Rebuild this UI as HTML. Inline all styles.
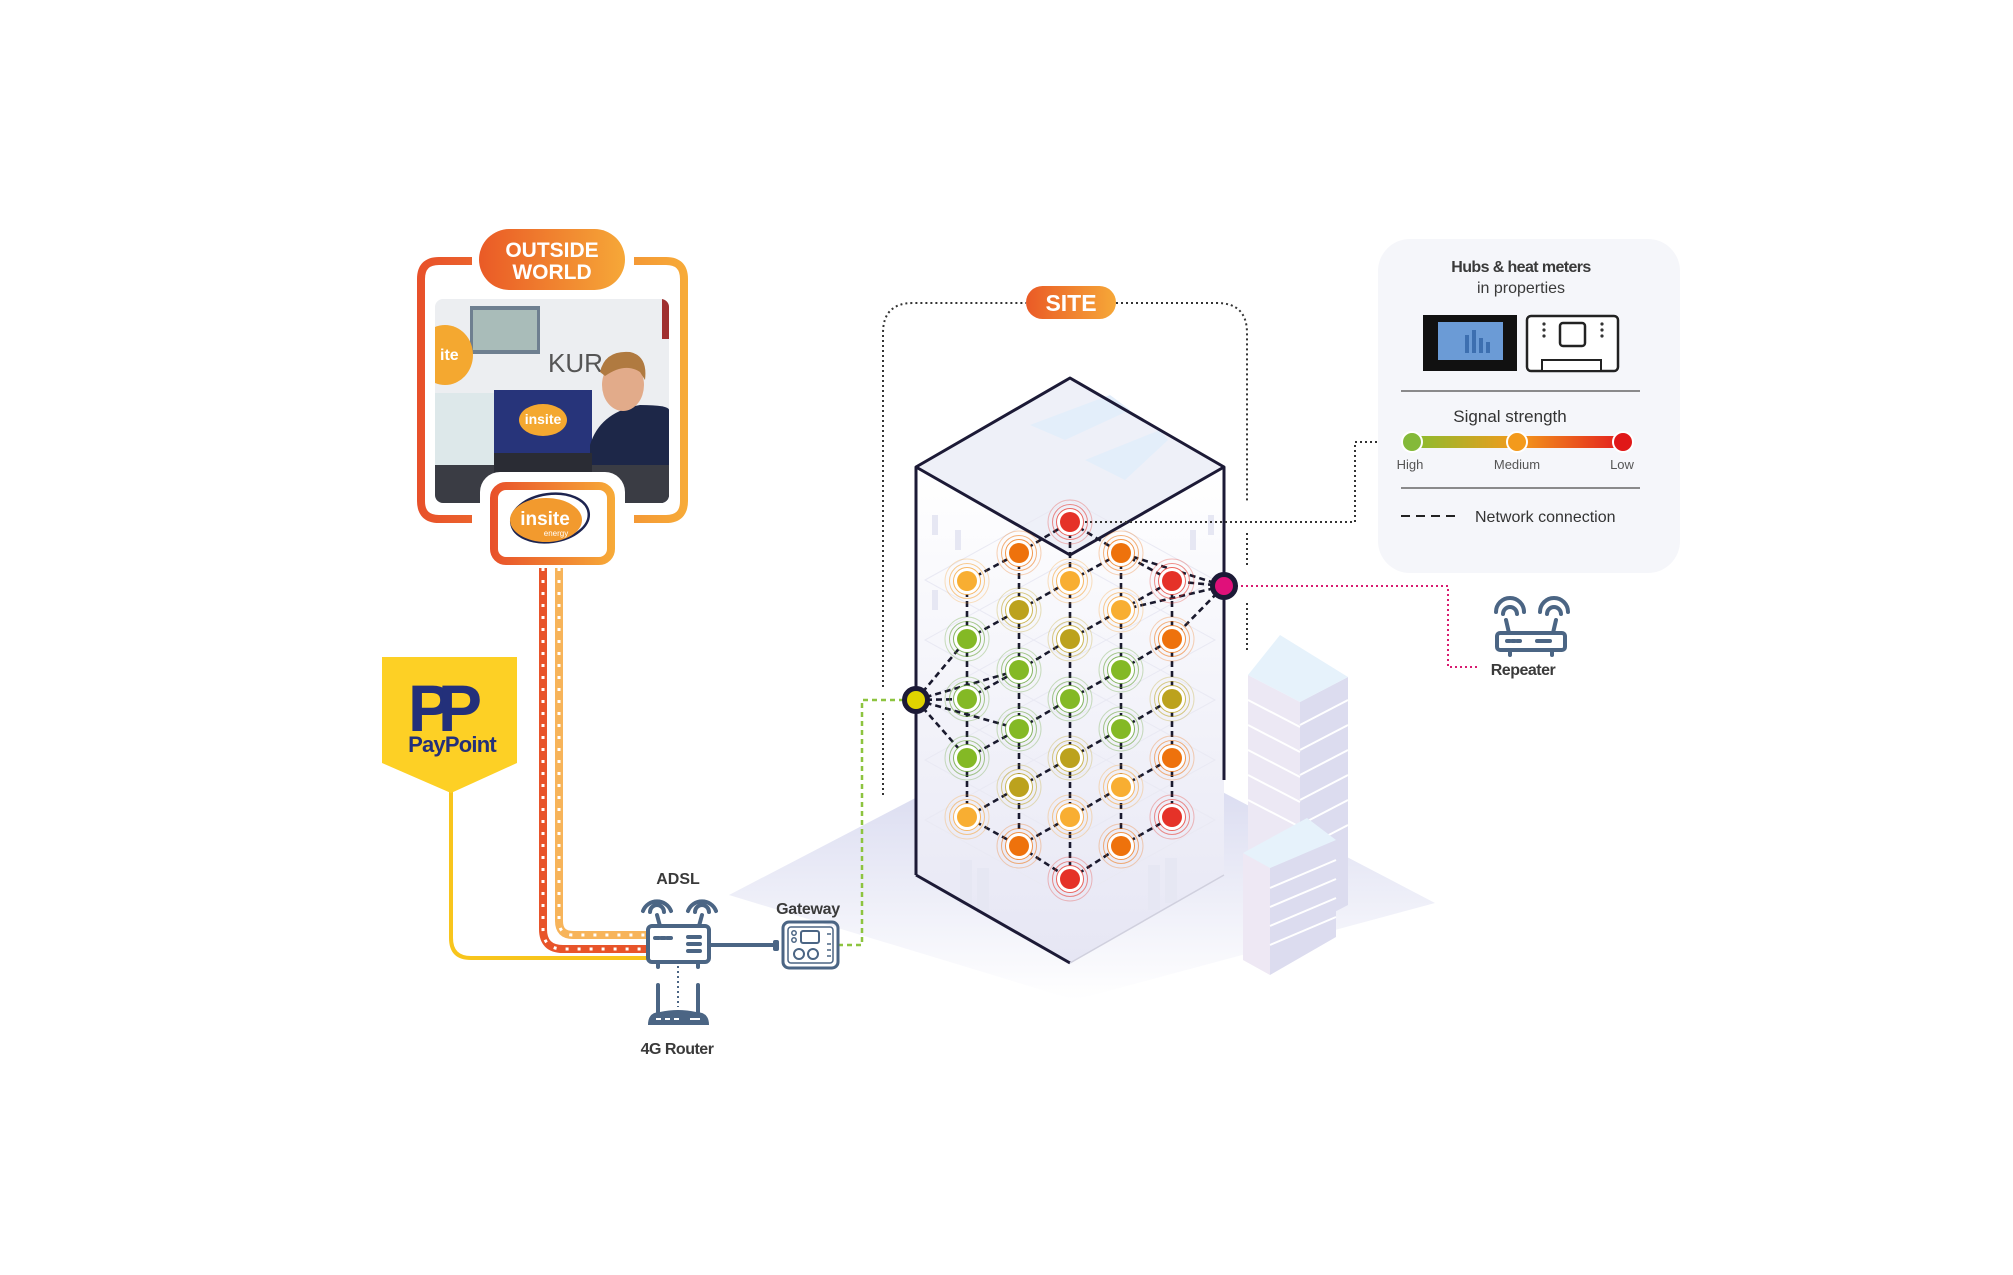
<!DOCTYPE html>
<html><head><meta charset="utf-8"><style>
html,body{margin:0;padding:0;background:#fff}
svg{display:block}
text{font-family:"Liberation Sans",sans-serif}
</style></head><body>
<svg width="2013" height="1275" viewBox="0 0 2013 1275" xmlns="http://www.w3.org/2000/svg">
<defs>
<linearGradient id="og" x1="417" y1="0" x2="688" y2="0" gradientUnits="userSpaceOnUse"><stop offset="0" stop-color="#e8502a"/><stop offset="1" stop-color="#f7ab38"/></linearGradient>
<linearGradient id="pg" x1="0" y1="0" x2="1" y2="0"><stop offset="0" stop-color="#ea5a26"/><stop offset="1" stop-color="#f6a838"/></linearGradient>
<linearGradient id="lg" x1="490" y1="0" x2="615" y2="0" gradientUnits="userSpaceOnUse"><stop offset="0" stop-color="#e8502a"/><stop offset="1" stop-color="#f7ab38"/></linearGradient>
<linearGradient id="sg" x1="1412" y1="0" x2="1623" y2="0" gradientUnits="userSpaceOnUse"><stop offset="0" stop-color="#88bd2f"/><stop offset=".5" stop-color="#f39a1c"/><stop offset="1" stop-color="#e31e1e"/></linearGradient>
<linearGradient id="gr" x1="0" y1="0" x2="0" y2="1"><stop offset="0" stop-color="#cfd1ec"/><stop offset="1" stop-color="#ffffff"/></linearGradient>
<linearGradient id="bl" x1="0" y1="0" x2="0" y2="1"><stop offset="0" stop-color="#ffffff"/><stop offset="1" stop-color="#e6e6f4"/></linearGradient>
<g id="dR"><circle r="22" fill="none" stroke="#e53228" stroke-opacity=".3"/><circle r="17.5" fill="none" stroke="#e53228" stroke-opacity=".55"/><circle r="13.5" fill="#fff" stroke="#e53228" stroke-opacity=".75"/><circle r="10" fill="#e53228"/></g>
<g id="dO"><circle r="22" fill="none" stroke="#ee720c" stroke-opacity=".3"/><circle r="17.5" fill="none" stroke="#ee720c" stroke-opacity=".55"/><circle r="13.5" fill="#fff" stroke="#ee720c" stroke-opacity=".75"/><circle r="10" fill="#ee720c"/></g>
<g id="dY"><circle r="22" fill="none" stroke="#f5a030" stroke-opacity=".3"/><circle r="17.5" fill="none" stroke="#f5a030" stroke-opacity=".55"/><circle r="13.5" fill="#fff" stroke="#f5a030" stroke-opacity=".75"/><circle r="10" fill="#f8ae32"/></g>
<g id="dL"><circle r="22" fill="none" stroke="#bca21d" stroke-opacity=".3"/><circle r="17.5" fill="none" stroke="#bca21d" stroke-opacity=".55"/><circle r="13.5" fill="#fff" stroke="#bca21d" stroke-opacity=".75"/><circle r="10" fill="#bca21d"/></g>
<g id="dG"><circle r="22" fill="none" stroke="#5e9e2a" stroke-opacity=".3"/><circle r="17.5" fill="none" stroke="#5e9e2a" stroke-opacity=".55"/><circle r="13.5" fill="#fff" stroke="#5e9e2a" stroke-opacity=".75"/><circle r="10" fill="#84b925"/></g>
</defs>

<polygon points="729,895 1075,715 1435,903 1075,1000" fill="url(#gr)"/>

<polygon points="1248,675 1300,702 1300,930 1248,905" fill="#ece8f4"/>
<polygon points="1300,702 1348,677 1348,905 1300,930" fill="#dcdcef"/>
<polygon points="1248,675 1280,635 1348,677 1300,702" fill="#e6f2fb"/>
<g stroke="#fff" stroke-width="2">
<line x1="1300" y1="725" x2="1348" y2="700"/><line x1="1300" y1="750" x2="1348" y2="725"/><line x1="1300" y1="775" x2="1348" y2="750"/><line x1="1300" y1="800" x2="1348" y2="775"/><line x1="1300" y1="825" x2="1348" y2="800"/><line x1="1300" y1="850" x2="1348" y2="825"/>
<line x1="1248" y1="700" x2="1300" y2="727"/><line x1="1248" y1="725" x2="1300" y2="752"/><line x1="1248" y1="750" x2="1300" y2="777"/><line x1="1248" y1="775" x2="1300" y2="802"/><line x1="1248" y1="800" x2="1300" y2="827"/>
</g>
<polygon points="1243,853 1270,868 1270,975 1243,960" fill="#eee8f4"/>
<polygon points="1270,868 1336,840 1336,937 1270,975" fill="#dcdcef"/>
<polygon points="1243,853 1307,818 1336,840 1270,868" fill="#e6f2fb"/>
<g stroke="#fff" stroke-width="2"><line x1="1270" y1="888" x2="1336" y2="860"/><line x1="1270" y1="907" x2="1336" y2="879"/><line x1="1270" y1="926" x2="1336" y2="898"/><line x1="1270" y1="945" x2="1336" y2="917"/></g>

<polygon points="916,467 1070,555 1070,963 916,875" fill="url(#bl)"/>
<polygon points="1070,555 1224,467 1224,875 1070,963" fill="url(#bl)"/>
<polygon points="916,467 1070,378 1224,467 1070,555" fill="#eef0f8"/>
<polygon points="1030,425 1110,395 1130,410 1065,440" fill="#e3eefa"/>
<polygon points="1085,460 1160,430 1168,440 1125,480" fill="#e3eefa"/>
<g fill="#e6e7f3">
<rect x="932" y="515" width="6" height="20"/><rect x="955" y="530" width="6" height="20"/><rect x="932" y="590" width="6" height="20"/><rect x="1190" y="530" width="6" height="20"/><rect x="1208" y="515" width="6" height="20"/>
<rect x="960" y="860" width="12" height="45"/><rect x="977" y="868" width="12" height="45"/><rect x="1148" y="865" width="12" height="45"/><rect x="1165" y="858" width="12" height="45"/>
</g>
<g fill="none" stroke="#e9e9f3" stroke-width="1">
<polygon points="925,640 1070,560 1215,640 1070,720"/><polygon points="925,700 1070,620 1215,700 1070,780"/><polygon points="925,760 1070,680 1215,760 1070,840"/><polygon points="925,820 1070,740 1215,820 1070,900"/><polygon points="925,580 1070,500 1215,580 1070,660"/>
</g>
<g fill="none" stroke="#1c1a36" stroke-width="3" stroke-linejoin="round">
<polyline points="916,875 916,467 1070,378 1224,467 1224,780"/>
<polyline points="916,467 1070,555 1224,467"/>
<polyline points="916,875 1070,963"/>
</g>
<line x1="1070" y1="963" x2="1224" y2="875" stroke="#d0d0de" stroke-width="1.5"/>

<g fill="none" stroke="#333" stroke-width="2" stroke-dasharray="2 3">
<path d="M883,687 V333 Q883,303 913,303 H1026"/>
<path d="M883,713 V795"/>
<path d="M1116,303 H1217 Q1247,303 1247,333 V503"/>
<path d="M1247,533 V568 M1247,603 V650"/>
<path d="M1070,522 H1355 V442 H1405"/>
</g>
<rect x="1026" y="286" width="90" height="33" rx="16.5" fill="url(#pg)"/>
<text x="1071" y="311" font-size="23" font-weight="bold" fill="#fff" text-anchor="middle">SITE</text>

<g stroke="#1a1a2e" stroke-width="2.6" stroke-dasharray="6 4" fill="none">
<line x1="967" y1="581" x2="967" y2="817"/><line x1="1019" y1="553" x2="1019" y2="846"/><line x1="1070" y1="522" x2="1070" y2="879"/><line x1="1121" y1="553" x2="1121" y2="846"/><line x1="1172" y1="581" x2="1172" y2="817"/>
<line x1="967" y1="581" x2="1019" y2="553"/><line x1="967" y1="639" x2="1019" y2="610"/><line x1="967" y1="699" x2="1019" y2="670"/><line x1="967" y1="758" x2="1019" y2="729"/><line x1="967" y1="817" x2="1019" y2="787"/>
<line x1="1019" y1="553" x2="1070" y2="522"/><line x1="1019" y1="610" x2="1070" y2="581"/><line x1="1019" y1="670" x2="1070" y2="639"/><line x1="1019" y1="729" x2="1070" y2="699"/><line x1="1019" y1="787" x2="1070" y2="758"/><line x1="1019" y1="846" x2="1070" y2="817"/>
<line x1="1070" y1="581" x2="1121" y2="553"/><line x1="1070" y1="639" x2="1121" y2="610"/><line x1="1070" y1="699" x2="1121" y2="670"/><line x1="1070" y1="758" x2="1121" y2="729"/><line x1="1070" y1="817" x2="1121" y2="787"/><line x1="1070" y1="879" x2="1121" y2="846"/>
<line x1="1121" y1="610" x2="1172" y2="581"/><line x1="1121" y1="670" x2="1172" y2="639"/><line x1="1121" y1="729" x2="1172" y2="699"/><line x1="1121" y1="787" x2="1172" y2="758"/><line x1="1121" y1="846" x2="1172" y2="817"/>
<line x1="1070" y1="522" x2="1121" y2="553"/><line x1="1121" y1="553" x2="1172" y2="581"/>
<line x1="967" y1="817" x2="1019" y2="846"/><line x1="1019" y1="846" x2="1070" y2="879"/>
<line x1="916" y1="700" x2="967" y2="639"/><line x1="916" y1="700" x2="1019" y2="670"/><line x1="916" y1="700" x2="967" y2="699"/><line x1="916" y1="700" x2="1019" y2="729"/><line x1="916" y1="700" x2="967" y2="758"/>
<line x1="1224" y1="586" x2="1121" y2="553"/><line x1="1224" y1="586" x2="1172" y2="581"/><line x1="1224" y1="586" x2="1121" y2="610"/><line x1="1224" y1="586" x2="1172" y2="639"/>
</g>
<use href="#dR" x="1070" y="522"/><use href="#dY" x="1070" y="581"/><use href="#dL" x="1070" y="639"/><use href="#dG" x="1070" y="699"/><use href="#dL" x="1070" y="758"/><use href="#dY" x="1070" y="817"/><use href="#dR" x="1070" y="879"/>
<use href="#dO" x="1019" y="553"/><use href="#dL" x="1019" y="610"/><use href="#dG" x="1019" y="670"/><use href="#dG" x="1019" y="729"/><use href="#dL" x="1019" y="787"/><use href="#dO" x="1019" y="846"/>
<use href="#dY" x="967" y="581"/><use href="#dG" x="967" y="639"/><use href="#dG" x="967" y="699"/><use href="#dG" x="967" y="758"/><use href="#dY" x="967" y="817"/>
<use href="#dO" x="1121" y="553"/><use href="#dY" x="1121" y="610"/><use href="#dG" x="1121" y="670"/><use href="#dG" x="1121" y="729"/><use href="#dY" x="1121" y="787"/><use href="#dO" x="1121" y="846"/>
<use href="#dR" x="1172" y="581"/><use href="#dO" x="1172" y="639"/><use href="#dL" x="1172" y="699"/><use href="#dO" x="1172" y="758"/><use href="#dR" x="1172" y="817"/>

<path d="M838,945 H862 V700 H905" fill="none" stroke="#8dc43f" stroke-width="2.5" stroke-dasharray="5 4"/>
<circle cx="916" cy="700" r="11.5" fill="#e0d400" stroke="#1c1a36" stroke-width="5"/>
<path d="M1236,586 H1448 V667 H1478" fill="none" stroke="#d81b70" stroke-width="2" stroke-dasharray="2 3"/>
<circle cx="1224" cy="586" r="11.5" fill="#e0107a" stroke="#1c1a36" stroke-width="5"/>

<rect x="1378" y="239" width="302" height="334" rx="32" fill="#f5f6fa"/>
<text x="1521" y="272" font-size="16" font-weight="bold" fill="#3a3a3a" text-anchor="middle" letter-spacing="-0.6">Hubs &amp; heat meters</text>
<text x="1521" y="293" font-size="16" fill="#3a3a3a" text-anchor="middle">in properties</text>
<rect x="1423" y="315" width="94" height="56" fill="#111"/>
<rect x="1438" y="322" width="65" height="38" fill="#6b9bd6"/>
<rect x="1465" y="335" width="4" height="18" fill="#3d6fb0"/><rect x="1472" y="330" width="4" height="23" fill="#3d6fb0"/><rect x="1479" y="338" width="4" height="15" fill="#3d6fb0"/><rect x="1486" y="342" width="4" height="11" fill="#3d6fb0"/>
<rect x="1527" y="316" width="91" height="55" rx="4" fill="#fff" stroke="#222" stroke-width="2.5"/>
<rect x="1560" y="323" width="25" height="23" rx="3" fill="#fff" stroke="#222" stroke-width="2.5"/>
<rect x="1542" y="360" width="59" height="11" fill="#fff" stroke="#222" stroke-width="2"/>
<g fill="#333"><circle cx="1544" cy="324" r="1.6"/><circle cx="1544" cy="330" r="1.6"/><circle cx="1544" cy="336" r="1.6"/><circle cx="1602" cy="324" r="1.6"/><circle cx="1602" cy="330" r="1.6"/><circle cx="1602" cy="336" r="1.6"/></g>
<line x1="1401" y1="391" x2="1640" y2="391" stroke="#666" stroke-width="1.5"/>
<text x="1510" y="422" font-size="17" fill="#333" text-anchor="middle">Signal strength</text>
<rect x="1412" y="436" width="211" height="12" fill="url(#sg)"/>
<circle cx="1412" cy="442" r="10" fill="#84b939" stroke="#fff" stroke-width="2"/>
<circle cx="1517" cy="442" r="10" fill="#f39a1c" stroke="#fff" stroke-width="2"/>
<circle cx="1623" cy="442" r="10" fill="#e01818" stroke="#fff" stroke-width="2"/>
<text x="1410" y="469" font-size="13" fill="#555" text-anchor="middle">High</text>
<text x="1517" y="469" font-size="13" fill="#555" text-anchor="middle">Medium</text>
<text x="1622" y="469" font-size="13" fill="#555" text-anchor="middle">Low</text>
<line x1="1401" y1="488" x2="1640" y2="488" stroke="#666" stroke-width="1.5"/>
<line x1="1401" y1="516" x2="1458" y2="516" stroke="#222" stroke-width="2" stroke-dasharray="9 6"/>
<text x="1475" y="522" font-size="16" fill="#333">Network connection</text>

<g fill="none" stroke="#4b6584" stroke-width="4" stroke-linecap="round">
<path d="M1496,612 A14,14 0 0 1 1524,612"/><path d="M1503,614 A7,7 0 0 1 1517,614"/>
<path d="M1540,612 A14,14 0 0 1 1568,612"/><path d="M1547,614 A7,7 0 0 1 1561,614"/>
<line x1="1506" y1="620" x2="1509" y2="633"/><line x1="1556" y1="620" x2="1553" y2="633"/>
<rect x="1497" y="633" width="68" height="17" rx="3"/>
<line x1="1510" y1="650" x2="1510" y2="655"/><line x1="1552" y1="650" x2="1552" y2="655"/>
<line x1="1507" y1="641" x2="1520" y2="641" stroke-dasharray="3 2"/><line x1="1537" y1="641" x2="1550" y2="641"/>
</g>
<text x="1523" y="675" font-size="16" font-weight="bold" fill="#3a3a3a" text-anchor="middle" letter-spacing="-0.5">Repeater</text>

<g fill="none" stroke="url(#og)" stroke-width="8">
<path d="M472,261 H439 Q421,261 421,279 V501 Q421,519 439,519 H472"/>
<path d="M634,261 H666 Q684,261 684,279 V501 Q684,519 666,519 H634"/>
</g>
<rect x="479" y="229" width="146" height="61" rx="30.5" fill="url(#pg)"/>
<text x="552" y="257" font-size="21" font-weight="bold" fill="#fff" text-anchor="middle">OUTSIDE</text>
<text x="552" y="279" font-size="21" font-weight="bold" fill="#fff" text-anchor="middle">WORLD</text>
<clipPath id="ph"><rect x="435" y="299" width="234" height="204" rx="8"/></clipPath>
<g clip-path="url(#ph)">
<rect x="435" y="299" width="234" height="204" fill="#eceef1"/>
<rect x="470" y="306" width="70" height="48" fill="#6e7f90"/><rect x="473" y="310" width="64" height="40" fill="#a9bcb9"/>
<ellipse cx="445" cy="355" rx="28" ry="30" fill="#f4a830"/>
<text x="440" y="360" font-size="16" font-weight="bold" fill="#fff">ite</text>
<text x="548" y="372" font-size="26" fill="#555">KUR</text>
<rect x="662" y="299" width="7" height="40" fill="#a03030"/>
<rect x="435" y="393" width="59" height="75" fill="#dde8ea"/>
<rect x="494" y="390" width="98" height="63" fill="#27347a"/>
<ellipse cx="543" cy="420" rx="24" ry="16" fill="#f4a830"/>
<text x="543" y="424" font-size="14" font-weight="bold" fill="#fff" text-anchor="middle">insite</text>
<path d="M590,503 V445 Q600,412 640,405 Q669,405 669,410 V503 Z" fill="#1d2748"/>
<ellipse cx="623" cy="385" rx="21" ry="26" fill="#e2ab8a"/>
<path d="M600,372 Q605,350 630,352 Q648,356 645,380 L640,372 Q625,362 605,376 Z" fill="#b07a40"/>
<rect x="435" y="465" width="234" height="38" fill="#3a3c44"/>
<rect x="494" y="453" width="98" height="20" fill="#2a2c34"/>
</g>
<rect x="480" y="472" width="145" height="103" rx="20" fill="#fff"/>
<rect x="494" y="486" width="117" height="75" rx="12" fill="#fff" stroke="url(#lg)" stroke-width="8"/>
<ellipse cx="550" cy="518" rx="39" ry="24" fill="none" stroke="#1d2450" stroke-width="2.5" transform="rotate(-8 550 518)"/>
<ellipse cx="546" cy="520" rx="36" ry="22" fill="#f29a2e"/>
<text x="545" y="525" font-size="19" font-weight="bold" fill="#fff" text-anchor="middle">insite</text>
<text x="556" y="536" font-size="8" fill="#fff" text-anchor="middle">energy</text>

<path d="M543,568 V929 Q543,949 563,949 H647" fill="none" stroke="#e8542a" stroke-width="8"/>
<path d="M559,568 V921 Q559,935 573,935 H647" fill="none" stroke="#f7b45a" stroke-width="8"/>
<path d="M543,568 V929 Q543,949 563,949 H647" fill="none" stroke="#fff" stroke-width="3" stroke-dasharray="3 9"/>
<path d="M559,568 V921 Q559,935 573,935 H647" fill="none" stroke="#fff" stroke-width="3" stroke-dasharray="3 9"/>
<path d="M451,790 V938 Q451,958 471,958 H647" fill="none" stroke="#f8c51c" stroke-width="4"/>

<polygon points="382,657 517,657 517,763 451,793 382,763" fill="#fdd025"/>
<text x="408" y="731" font-size="66" font-weight="bold" fill="#23307a" letter-spacing="-14">PP</text>
<text x="452" y="752" font-size="22" font-weight="bold" fill="#23307a" text-anchor="middle" letter-spacing="-0.8">PayPoint</text>

<text x="678" y="884" font-size="16" font-weight="bold" fill="#3a3a3a" text-anchor="middle">ADSL</text>
<g fill="none" stroke="#4b6584" stroke-width="4" stroke-linecap="round">
<path d="M643,911 A15,15 0 0 1 671,911"/><path d="M650,912 A7,7 0 0 1 664,912"/>
<path d="M688,911 A15,15 0 0 1 716,911"/><path d="M695,912 A7,7 0 0 1 709,912"/>
<line x1="657" y1="915" x2="660" y2="926"/><line x1="702" y1="915" x2="699" y2="926"/>
<rect x="648" y="926" width="61" height="36" rx="4"/>
<line x1="658" y1="962" x2="658" y2="967"/><line x1="698" y1="962" x2="698" y2="967"/>
<line x1="655" y1="938" x2="672" y2="938" stroke-dasharray="4 2"/>
<line x1="688" y1="937" x2="700" y2="937"/><line x1="688" y1="944" x2="700" y2="944"/><line x1="688" y1="951" x2="700" y2="951"/>
<line x1="658" y1="985" x2="658" y2="1012"/><line x1="698" y1="985" x2="698" y2="1012"/>
<line x1="709" y1="945" x2="775" y2="945"/>
</g>
<line x1="678" y1="966" x2="678" y2="1007" stroke="#4b6584" stroke-width="2" stroke-dasharray="2 3"/>
<path d="M648,1025 Q648,1012 660,1012 Q678,1008 696,1012 Q709,1012 709,1025 Z" fill="#4b6584"/>
<g stroke="#fff" stroke-width="2"><line x1="656" y1="1019" x2="661" y2="1019"/><line x1="665" y1="1019" x2="670" y2="1019"/><line x1="674" y1="1019" x2="679" y2="1019"/><line x1="690" y1="1019" x2="700" y2="1019"/></g>
<text x="677" y="1054" font-size="16" font-weight="bold" fill="#3a3a3a" text-anchor="middle" letter-spacing="-0.5">4G Router</text>

<text x="808" y="914" font-size="16" font-weight="bold" fill="#3a3a3a" text-anchor="middle" letter-spacing="-0.3">Gateway</text>
<rect x="773" y="940" width="6" height="11" rx="2" fill="#4b6584"/>
<g fill="none" stroke="#4b6584" stroke-width="3">
<rect x="783" y="922" width="55" height="46" rx="6"/>
<rect x="788" y="927" width="45" height="36" rx="3" stroke-width="1.5"/>
<rect x="801" y="931" width="18" height="12" rx="2" stroke-width="2"/>
<circle cx="794" cy="933" r="2.2" stroke-width="1.5"/><circle cx="794" cy="940" r="2.2" stroke-width="1.5"/>
<circle cx="799" cy="954" r="5" stroke-width="2"/><circle cx="813" cy="954" r="5" stroke-width="2"/>
<line x1="827" y1="934" x2="831" y2="934" stroke-width="1.5"/><line x1="827" y1="944" x2="831" y2="944" stroke-width="1.5"/><line x1="827" y1="950" x2="831" y2="950" stroke-width="1.5"/><line x1="827" y1="956" x2="831" y2="956" stroke-width="1.5"/>
</g>
</svg>
</body></html>
